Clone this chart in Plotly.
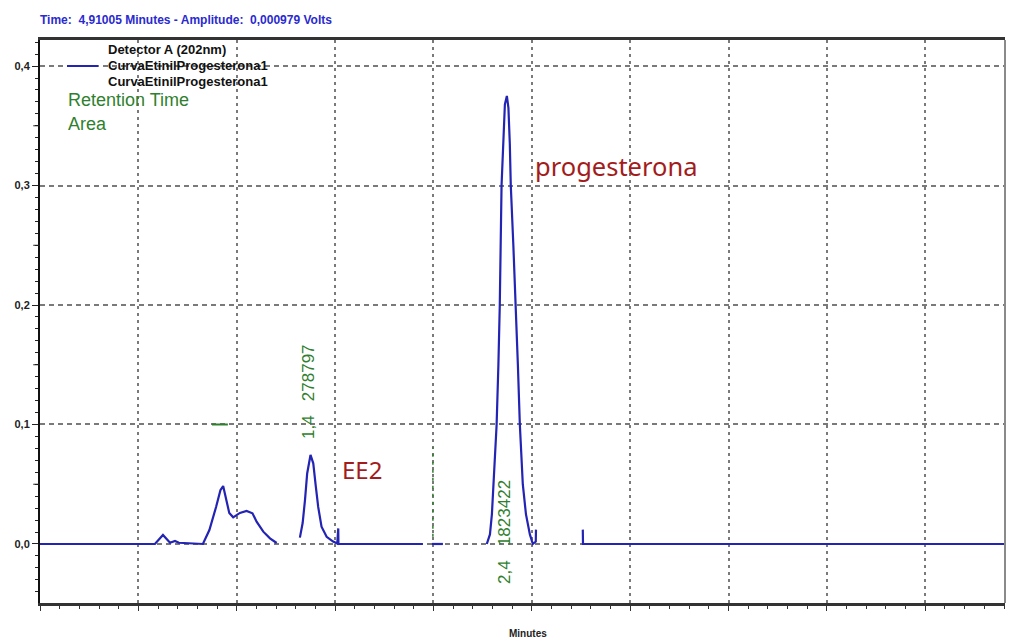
import plotly.graph_objects as go

# Chromatogram trace, Detector A (202 nm). None entries are gaps in the recording.
time_min = [
    0.000, 0.584, 0.625, 0.661, 0.686, 0.706, 0.828,
    0.861, 0.895, 0.917, 0.931, 0.945, 0.962, 0.982, 1.016, 1.050, 1.080, 1.101, 1.135, 1.169, 1.203,
    None,
    1.321, 1.335, 1.347, 1.358, 1.375, 1.389, 1.402, 1.414, 1.431, 1.457, 1.490, 1.511, 1.516, 1.517,
    1.946,
    None,
    1.992, 2.048,
    None,
    2.271, 2.287, 2.297, 2.307, 2.321, 2.330, 2.337, 2.346, 2.355, 2.363, 2.373, 2.381, 2.388,
    2.393, 2.406, 2.419, 2.429, 2.439, 2.454, 2.470, 2.490, 2.505, 2.520, 2.521,
    None,
    2.759, 2.760, 4.905,
]
amplitude_v = [
    0.0, 0.0, 0.0075, 0.001, 0.0025, 0.001, 0.0,
    0.0117, 0.031, 0.045, 0.0485, 0.037, 0.026, 0.0223, 0.026, 0.0276, 0.0257, 0.0187, 0.0103, 0.0047, 0.0008,
    None,
    0.0053, 0.0175, 0.037, 0.059, 0.0745, 0.0675, 0.048, 0.031, 0.0145, 0.006, 0.002, 0.0004, 0.013, 0.0,
    0.0,
    None,
    0.0, 0.0,
    None,
    0.0, 0.008, 0.025, 0.06, 0.10, 0.15, 0.20, 0.30, 0.345, 0.368, 0.375, 0.365, 0.335,
    0.30, 0.25, 0.20, 0.15, 0.10, 0.05, 0.025, 0.008, 0.0, 0.002, 0.012,
    None,
    0.012, 0.0, 0.0,
]

# Integrated peaks
peak_names = ["EE2", "progesterona"]
retention_time = [1.377, 2.373]
peak_area = [278797, 1823422]

trace_name = "CurvaEtinilProgesterona1"
detector_name = "Detector A (202nm)"

x_range = [0.0, 4.905]
y_range = [-0.0494, 0.4218]

BLUE = "#2323b4"
GREEN = "#2f7f2f"
RED = "#a31c1c"
GRID = "#7a7a7a"

fig = go.Figure()
fig.add_trace(go.Scatter(
    x=time_min, y=amplitude_v, mode="lines", name=trace_name,
    line=dict(color=BLUE, width=2.2), connectgaps=False, showlegend=False,
))


def dec(v):
    return f"{v:.1f}".replace(".", ",")


annotations = []

# Retention time / area labels, written vertically along each peak
label_y = [0.128, 0.010]
for rt, area, ly in zip(retention_time, peak_area, label_y):
    annotations.append(dict(
        x=rt, y=ly, xref="x", yref="y", xshift=-3,
        text=f"{dec(rt)}\u00a0\u00a0\u00a0{area}", textangle=-90, showarrow=False,
        font=dict(family="Liberation Sans", size=17, color=GREEN),
        xanchor="center", yanchor="middle",
    ))

# Compound names
annotations.append(dict(x=1.524, y=0.062, xref="x", yref="y", text=peak_names[0],
                        showarrow=False, xanchor="left", yanchor="middle",
                        font=dict(family="Noto Sans", size=24, color=RED)))
annotations.append(dict(x=2.505, y=0.316, xref="x", yref="y", text=peak_names[1],
                        showarrow=False, xanchor="left", yanchor="middle",
                        font=dict(family="Noto Sans", size=25.5, color=RED)))


def px_x(px):
    return (px - 40) / 965


def px_y(py):
    return (603 - py) / 563


# Status line above the plot
annotations.append(dict(
    x=px_x(38), y=px_y(20), xref="paper", yref="paper", xanchor="left", yanchor="middle",
    text="Time:  4,91005 Minutes - Amplitude:  0,000979 Volts", showarrow=False,
    font=dict(family="Liberation Sans", size=12, color="#2a2ad0", weight="bold"),
))

# Legend block
legend_font = dict(family="Liberation Sans", size=13, color="#111111", weight="bold")
for txt, py in [(detector_name, 50), (trace_name, 66), (trace_name, 81)]:
    annotations.append(dict(x=px_x(106), y=px_y(py), xref="paper", yref="paper",
                            xanchor="left", yanchor="middle", text=txt, showarrow=False,
                            font=legend_font))
annotations.append(dict(x=px_x(66), y=px_y(100), xref="paper", yref="paper",
                        xanchor="left", yanchor="middle", text="Retention Time", showarrow=False,
                        font=dict(family="Liberation Sans", size=18, color=GREEN)))
annotations.append(dict(x=px_x(66), y=px_y(124), xref="paper", yref="paper",
                        xanchor="left", yanchor="middle", text="Area", showarrow=False,
                        font=dict(family="Liberation Sans", size=18, color=GREEN)))

# Axis title
annotations.append(dict(x=px_x(528), y=px_y(633), xref="paper", yref="paper",
                        xanchor="center", yanchor="middle", text="Minutes", showarrow=False,
                        font=dict(family="Liberation Sans", size=10, color="#222222", weight="bold")))

shapes = []
# Legend sample line
shapes.append(dict(type="line", xref="paper", yref="paper",
                   x0=px_x(67), x1=px_x(98), y0=px_y(66), y1=px_y(66),
                   line=dict(color=BLUE, width=2)))
# Right frame edge
shapes.append(dict(type="line", xref="paper", yref="paper", x0=1, x1=1, y0=0, y1=1,
                   line=dict(color="#8a8a8a", width=2)))
# Half-step ticks on the amplitude axis
for v in [0.05, 0.15, 0.25, 0.35]:
    shapes.append(dict(type="line", xref="paper", yref="y", x0=-0.007, x1=0, y0=v, y1=v,
                       line=dict(color="#222222", width=1)))
# Small integration marks
shapes.append(dict(type="line", xref="x", yref="y", x0=0.874, x1=0.955, y0=0.1, y1=0.1,
                   line=dict(color=GREEN, width=2)))
shapes.append(dict(type="line", xref="x", yref="y", x0=1.997, x1=1.997, y0=0.006, y1=0.081,
                   line=dict(color=GREEN, width=1.5, dash="3px,5px")))

fig.update_layout(
    width=1009, height=640, autosize=False,
    margin=dict(l=40, r=4, t=40, b=37),
    paper_bgcolor="white", plot_bgcolor="white",
    separators=",.",
    annotations=annotations, shapes=shapes,
    showlegend=False,
)

fig.update_xaxes(
    range=x_range, dtick=0.5, tick0=0, showticklabels=False,
    showgrid=True, gridcolor=GRID, gridwidth=1.5, griddash="3px,4px",
    zeroline=False, showline=True, linecolor="#333333", linewidth=3, mirror=True,
    ticks="outside", ticklen=5, tickcolor="#333333",
    minor=dict(dtick=0.1, ticks="outside", ticklen=3, tickcolor="#333333", showgrid=False),
)
fig.update_yaxes(
    range=y_range, dtick=0.1, tick0=0, tickformat=".1f",
    tickfont=dict(family="Liberation Sans", size=11, color="#222222", weight="bold"),
    showgrid=True, gridcolor=GRID, gridwidth=1.5, griddash="5px,4px",
    zeroline=False, showline=True, linecolor="#111111", linewidth=2,
    ticks="outside", ticklen=6, tickcolor="#222222",
    minor=dict(dtick=0.01, ticks="outside", ticklen=3, tickcolor="#222222", showgrid=False),
)

fig.write_html("out.html")
